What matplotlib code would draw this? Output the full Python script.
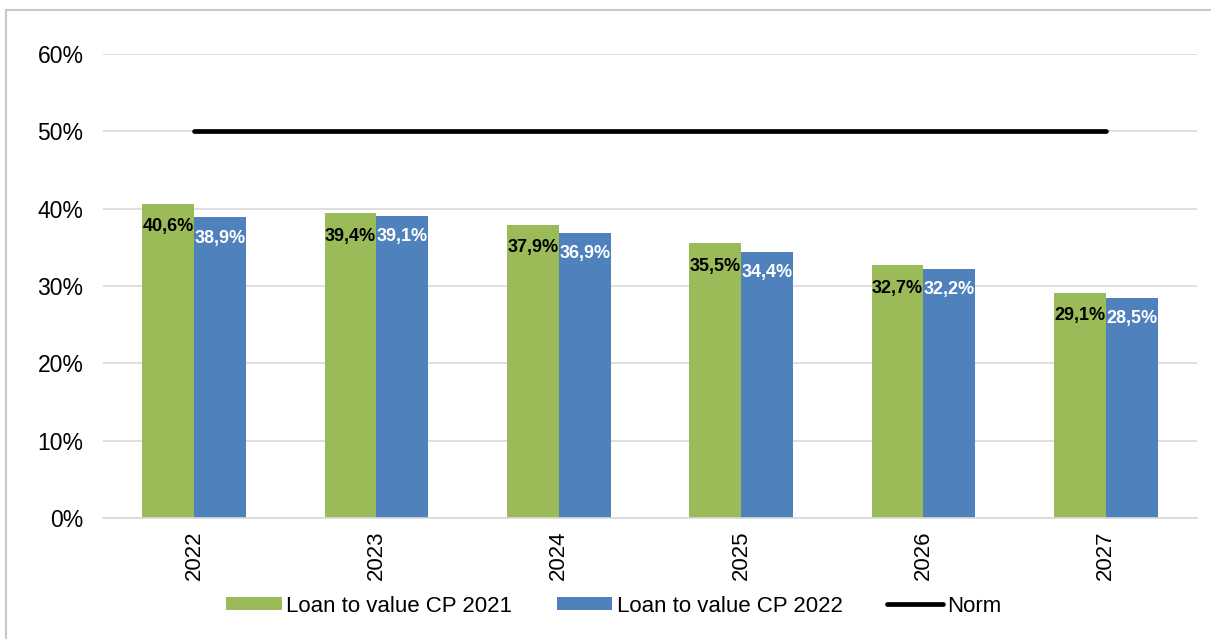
import matplotlib
matplotlib.use("Agg")
from matplotlib import pyplot as plt
from matplotlib.lines import Line2D
from matplotlib.ticker import PercentFormatter
import numpy as np

years = ['2022', '2023', '2024', '2025', '2026', '2027']
ltv_2021 = [40.6, 39.4, 37.9, 35.5, 32.7, 29.1]
ltv_2022 = [38.9, 39.1, 36.9, 34.4, 32.2, 28.5]
norm = [50, 50, 50, 50, 50, 50]

green = '#9BBB59'
blue = '#4F81BD'


def fmt(v):
    return f"{v:.1f}%".replace('.', ',')


def main():
    plt.rcParams['font.family'] = ['Liberation Sans', 'DejaVu Sans']

    fig = plt.figure(figsize=(12.11, 6.39), dpi=100)
    ax = fig.add_axes([103 / 1211, 1 - 518 / 639, 1094 / 1211, 464 / 639])

    x = np.arange(len(years))
    w = 0.285
    b1 = ax.bar(x - w / 2, ltv_2021, w, color=green, label='Loan to value CP 2021', zorder=2)
    b2 = ax.bar(x + w / 2, ltv_2022, w, color=blue, label='Loan to value CP 2022', zorder=2)
    ln, = ax.plot(x, norm, color='black', lw=3.4, solid_capstyle='round', label='Norm', zorder=3)

    for bar, v in zip(b1, ltv_2021):
        ax.annotate(fmt(v), (bar.get_x() + bar.get_width() / 2, v), xytext=(0, -16.5),
                    textcoords='offset points', ha='center', va='center',
                    fontsize=13, fontweight='bold', color='black', zorder=4)
    for bar, v in zip(b2, ltv_2022):
        ax.annotate(fmt(v), (bar.get_x() + bar.get_width() / 2, v), xytext=(0, -15),
                    textcoords='offset points', ha='center', va='center',
                    fontsize=13, fontweight='bold', color='white', zorder=4)

    ax.set_xlim(-0.5, len(years) - 0.5)
    ax.set_ylim(0, 60)
    ax.set_yticks(range(0, 61, 10))
    ax.yaxis.set_major_formatter(PercentFormatter(decimals=0))
    ax.set_xticks(x)
    ax.set_xticklabels(years, rotation=90)
    ax.tick_params(axis='y', length=0, pad=14, labelsize=16.5, colors='#000000')
    ax.tick_params(axis='x', length=0, pad=9, labelsize=16)
    ax.grid(axis='y', color='#d9d9d9', lw=1.2, zorder=0)
    ax.set_axisbelow(True)
    for s in ['top', 'right', 'left']:
        ax.spines[s].set_visible(False)
    ax.spines['bottom'].set_color('#d9d9d9')
    ax.spines['bottom'].set_linewidth(1.2)

    ax.legend([b1, b2, ln], ['Loan to value CP 2021', 'Loan to value CP 2022', 'Norm'],
              loc='center', bbox_to_anchor=(614 / 1211, 1 - 606 / 639),
              bbox_transform=fig.transFigure, ncol=3, frameon=False,
              fontsize=16, handlelength=2.5, handleheight=0.55,
              handletextpad=0.2, columnspacing=2.0)

    # grey frame on top and left like the original screenshot
    fig.add_artist(Line2D([5.5 / 1211, 1], [1 - 9.5 / 639, 1 - 9.5 / 639],
                          color='#c8c8c8', lw=1.5, transform=fig.transFigure))
    fig.add_artist(Line2D([5.5 / 1211, 5.5 / 1211], [0, 1 - 9.5 / 639],
                          color='#c8c8c8', lw=1.5, transform=fig.transFigure))

    fig.savefig('out.png', dpi=100)


if __name__ == "__main__":
    main()
